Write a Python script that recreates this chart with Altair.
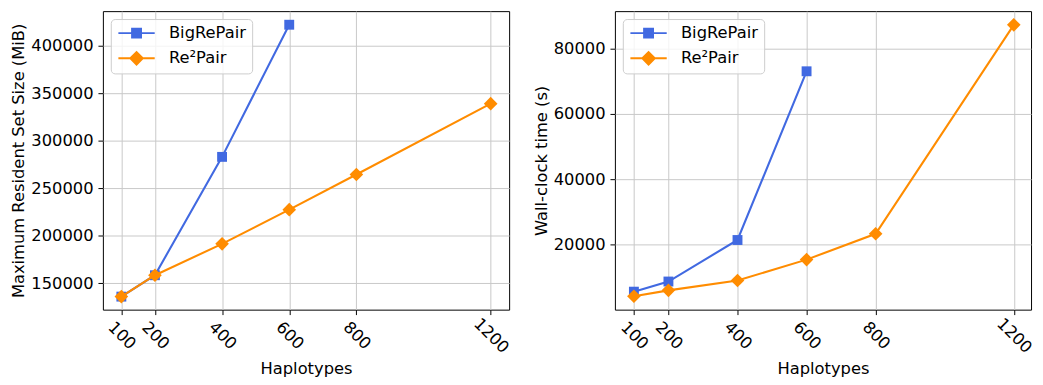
import altair as alt
import pandas as pd

series_names = ["BigRePair", "Re²Pair"]
series_colors = ["#4169E1", "#FF8C00"]

haplotypes_big = [100, 200, 400, 600]
rss_big = [136000, 158500, 283000, 422000]
time_big = [5600, 8700, 21400, 73000]

haplotypes_re2 = [100, 200, 400, 600, 800, 1200]
rss_re2 = [136000, 158500, 191500, 227500, 264500, 339000]
time_re2 = [4200, 6000, 9000, 15400, 23300, 87200]

x_ticks = [100, 200, 400, 600, 800, 1200]
rss_ticks = [150000, 200000, 250000, 300000, 350000, 400000]
time_ticks = [20000, 40000, 60000, 80000]

df_big = pd.DataFrame({"h": haplotypes_big, "rss": rss_big, "time": time_big, "series": series_names[0]})
df_re2 = pd.DataFrame({"h": haplotypes_re2, "rss": rss_re2, "time": time_re2, "series": series_names[1]})
df_all = pd.concat([df_big, df_re2], ignore_index=True)

FONT = "DejaVu Sans"
FS = 16.5

legend_paths = [
    "M-3.34,-0.18H3.34V0.18H-3.34Z M-1,-1H1V1H-1Z",
    "M-3.34,-0.18H3.34V0.18H-3.34Z M0,-1.4L1.4,0L0,1.4L-1.4,0Z",
]


def panel(field, title, ticks, ydomain, xdomain, width):
    x = alt.X(
        "h:Q",
        scale=alt.Scale(domain=xdomain, nice=False, zero=False),
        axis=alt.Axis(
            values=x_ticks, format="d", title="Haplotypes", labelAngle=45, labelAlign="center",
            labelBaseline="middle", labelPadding=21, titlePadding=5,
            labelOverlap=False, labelFlush=False, labelBound=False,
        ),
    )
    y = alt.Y(
        f"{field}:Q",
        scale=alt.Scale(domain=ydomain, nice=False, zero=False),
        axis=alt.Axis(values=ticks, format="d", title=title, labelPadding=5, titlePadding=4),
    )
    layers = []
    for name, color, shape, size, df in [
        (series_names[0], series_colors[0], "square", 100, df_big),
        (series_names[1], series_colors[1], "diamond", 190, df_re2),
    ]:
        base = alt.Chart(df).encode(x=x, y=y)
        layers.append(base.mark_line(color=color, strokeWidth=2.1))
        layers.append(base.mark_point(shape=shape, filled=True, size=size, color=color, opacity=1))
    leg = alt.Legend(
        title=None, orient="top-left", offset=8, padding=6, symbolSize=121,
        symbolOffset=11.8, labelOffset=24.5, rowPadding=8.5, labelFont=FONT,
        labelFontSize=FS, labelColor="black", fillColor="rgba(255,255,255,0.8)",
        strokeColor="#cccccc", cornerRadius=4, symbolStrokeWidth=0, labelLimit=0,
    )
    legend_layer = (
        alt.Chart(df_all)
        .transform_filter("false")
        .mark_point(filled=True, opacity=1, strokeWidth=0)
        .encode(
            x=x, y=y,
            color=alt.Color("series:N", scale=alt.Scale(domain=series_names, range=series_colors), legend=leg),
            shape=alt.Shape("series:N", scale=alt.Scale(domain=series_names, range=legend_paths), legend=leg),
        )
    )
    return alt.layer(*layers, legend_layer).properties(width=width, height=302)


left = panel("rss", "Maximum Resident Set Size (MiB)", rss_ticks, [122300, 436300], [45, 1255], 411)
right = panel("time", "Wall-clock time (s)", time_ticks, [100, 91400], [45, 1250], 421)

chart = (
    alt.hconcat(left, right, spacing=107, bounds="flush")
    .resolve_scale(color="independent", shape="independent")
    .resolve_legend(color="independent", shape="independent")
    .properties(padding={"left": 2, "top": 0, "right": 0, "bottom": 0})
    .configure_view(stroke="black", strokeWidth=1)
    .configure_axis(
        labelFont=FONT, labelFontSize=FS, labelColor="black",
        titleFont=FONT, titleFontSize=FS, titleColor="black", titleFontWeight="normal",
        tickSize=5, tickColor="black", tickWidth=1, domain=False,
        grid=True, gridColor="#c8c8c8", gridWidth=1,
    )
)

chart.save("out.html", embed_options={"renderer": "svg", "actions": False})
